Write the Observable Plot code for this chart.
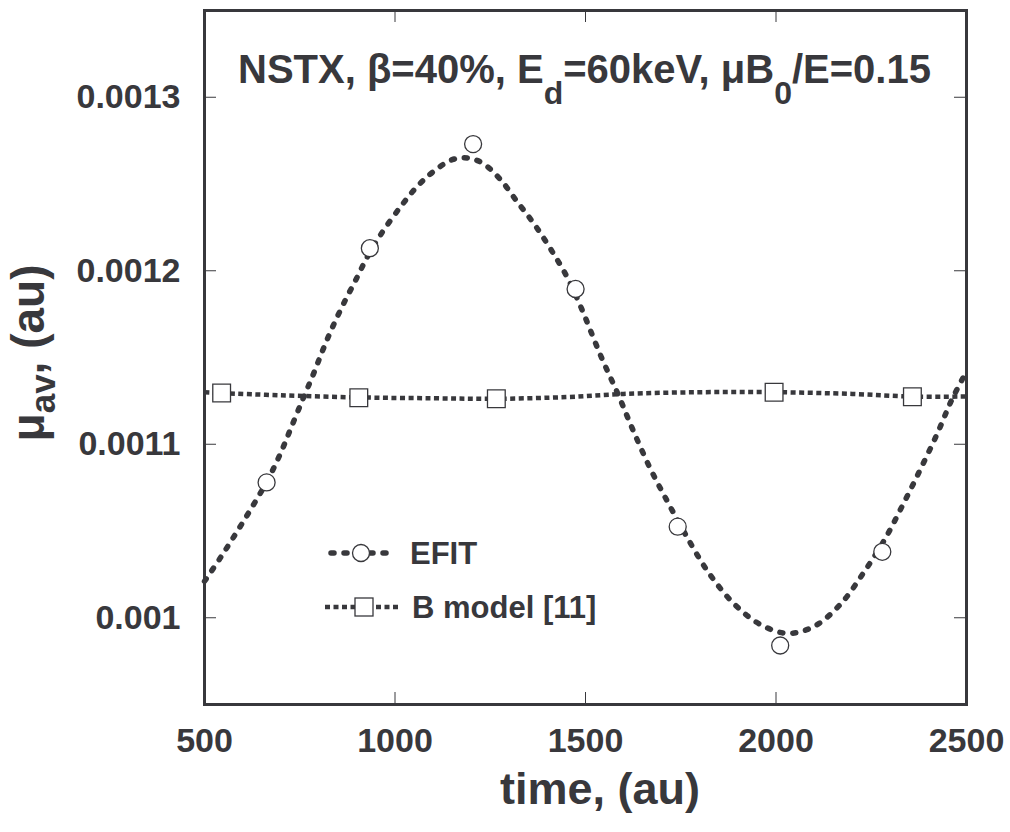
<!DOCTYPE html>
<html><head><meta charset="utf-8">
<script src="https://cdn.jsdelivr.net/npm/d3@7"></script>
<script src="https://cdn.jsdelivr.net/npm/@observablehq/plot@0.6"></script>
<style>
body{margin:0;background:#fff;}
#chart svg{display:block;}
</style>
</head><body><div id="chart"></div>
<script>
// EFIT curve (time, mu_av)
const efitTime = [500, 540, 575, 620, 665, 700, 730, 760, 785, 810, 835, 865, 900, 925, 960, 1015, 1060, 1100, 1150, 1190, 1230, 1275, 1320, 1365, 1410, 1455, 1490, 1540, 1585, 1625, 1670, 1715, 1760, 1820, 1890, 1960, 2030, 2100, 2170, 2230, 2285, 2335, 2380, 2425, 2460, 2500];
const efitMu = [0.001021, 0.001034, 0.001046, 0.001062, 0.001079, 0.001095, 0.001111, 0.001127, 0.001140, 0.001154, 0.001167, 0.001181, 0.001196, 0.001207, 0.001220, 0.001237, 0.001249, 0.001257, 0.001264, 0.001265, 0.001262, 0.001253, 0.001240, 0.001227, 0.001212, 0.001195, 0.001178, 0.001151, 0.001129, 0.001108, 0.001086, 0.001067, 0.001049, 0.001027, 0.001008, 0.000996, 0.000991, 0.000995, 0.001008, 0.001026, 0.001045, 0.001066, 0.001086, 0.001107, 0.001125, 0.001142];
const efitMarkTime = [663, 934, 1205, 1474, 1742, 2011, 2279];
const efitMarkMu = [0.001078, 0.001213, 0.001273, 0.0011895, 0.0010525, 0.000984, 0.001038];
// B model [11]
const bTime = [500, 545, 700, 905, 1100, 1266, 1450, 1600, 1800, 1995, 2200, 2358, 2500];
const bMu = [0.0011300, 0.0011295, 0.0011282, 0.0011270, 0.0011265, 0.0011262, 0.0011272, 0.0011290, 0.0011300, 0.0011300, 0.0011290, 0.0011275, 0.0011275];
const bMarkTime = [545, 905, 1266, 1995, 2358];
const bMarkMu = [0.0011295, 0.0011268, 0.0011262, 0.0011300, 0.0011274];
// axes
const xTicks = [500, 1000, 1500, 2000, 2500];
const xInnerTicks = [1000, 1500, 2000];
const yTicks = [0.001, 0.0011, 0.0012, 0.0013];
const yTickLabels = ["0.001", "0.0011", "0.0012", "0.0013"];

const efit = efitTime.map((t, i) => ({t, mu: efitMu[i]}));
const efitMarks = efitMarkTime.map((t, i) => ({t, mu: efitMarkMu[i]}));
const bmod = bTime.map((t, i) => ({t, mu: bMu[i]}));
const bMarks = bMarkTime.map((t, i) => ({t, mu: bMarkMu[i]}));

const ink = "#38383c";
const W = 1010, H = 832, mL = 204, mR = 44, mT = 10, mB = 128;
const innerW = W - mL - mR, innerH = H - mT - mB;
const font = "'Liberation Sans', Arial, Helvetica, sans-serif";
const efitDash = {stroke: ink, strokeWidth: 5.5, strokeDasharray: "3,10", strokeLinecap: "round"};
const bDash = {stroke: ink, strokeWidth: 4.5, strokeDasharray: "5,3.5", strokeLinecap: "butt"};

const plot = Plot.plot({
  width: W, height: H,
  marginLeft: mL, marginRight: mR, marginTop: mT, marginBottom: mB,
  style: {fontFamily: font, fontWeight: "bold", color: ink, background: "#fff", overflow: "visible"},
  x: {domain: [500, 2500]},
  y: {domain: [0.00095, 0.00135]},
  marks: [
    Plot.tickX(xInnerTicks, {x: d => d, insetTop: innerH - 12, stroke: ink, strokeWidth: 1}),
    Plot.tickX(xInnerTicks, {x: d => d, insetBottom: innerH - 12, stroke: ink, strokeWidth: 1}),
    Plot.tickY(yTicks, {y: d => d, insetRight: innerW - 12, stroke: ink, strokeWidth: 1}),
    Plot.tickY(yTicks, {y: d => d, insetLeft: innerW - 12, stroke: ink, strokeWidth: 1}),
    Plot.axisX(xTicks, {tickSize: 0, tickPadding: 23, fontSize: 34, fontWeight: "bold", label: null,
      tickFormat: d => String(d)}),
    Plot.axisY(yTicks, {tickSize: 0, tickPadding: 24, fontSize: 34, fontWeight: "bold", label: null,
      tickFormat: d => yTickLabels[yTicks.indexOf(d)]}),
    Plot.line(bmod, {x: "t", y: "mu", curve: "catmull-rom", ...bDash}),
    Plot.line(efit, {x: "t", y: "mu", curve: "catmull-rom", ...efitDash}),
    Plot.dot(efitMarks, {x: "t", y: "mu", r: 8.5, fill: "white", stroke: ink, strokeWidth: 1.3}),
    Plot.dot(bMarks, {x: "t", y: "mu", symbol: "square", r: 10, fill: "white", stroke: ink, strokeWidth: 1.3}),
    Plot.frame({stroke: ink, strokeWidth: 3})
  ]
});
document.getElementById("chart").appendChild(plot);

const svg = d3.select(plot);
// title inside the frame
const t = svg.append("text").attr("x", 238).attr("y", 83).attr("text-anchor", "start")
  .attr("font-size", 40).attr("font-weight", "bold").attr("fill", ink).attr("font-family", font);
t.append("tspan").text("NSTX, β=40%, E");
t.append("tspan").attr("font-size", 32).attr("dy", 21).text("d");
t.append("tspan").attr("dy", -21).text("=60keV, μB");
t.append("tspan").attr("font-size", 32).attr("dy", 21).text("0");
t.append("tspan").attr("dy", -21).text("/E=0.15");

// x axis title
svg.append("text").attr("x", 600).attr("y", 804).attr("text-anchor", "middle")
  .attr("font-size", 45).attr("font-weight", "bold").attr("fill", ink).attr("font-family", font)
  .text("time, (au)");

// y axis title
const yl = svg.append("text").attr("transform", "translate(44,353) rotate(-90)").attr("text-anchor", "middle")
  .attr("font-size", 46).attr("font-weight", "bold").attr("fill", ink).attr("font-family", font);
yl.append("tspan").text("μ");
yl.append("tspan").attr("font-size", 35).attr("dy", 11).text("av");
yl.append("tspan").attr("dy", -11).text(", (au)");

// legend
const lg = svg.append("g").attr("font-family", font).attr("font-weight", "bold").attr("fill", ink);
function legendRow(y, x0, x1, dash, width, cap, markerFn, label, tx) {
  lg.append("line").attr("x1", x0).attr("x2", x1).attr("y1", y).attr("y2", y)
    .attr("stroke", ink).attr("stroke-width", width).attr("stroke-dasharray", dash).attr("stroke-linecap", cap);
  markerFn(y);
  lg.append("text").attr("x", tx).attr("y", y).attr("dy", "0.35em").attr("text-anchor", "start")
    .attr("font-size", 31).text(label);
}
legendRow(553, 331, 395, "3,10", 5.5, "round", y => {
  lg.append("circle").attr("cx", 361).attr("cy", y).attr("r", 8.5).attr("fill", "white").attr("stroke", ink).attr("stroke-width", 1.3);
}, "EFIT", 410);
legendRow(607, 325, 398, "5,3.5", 4.5, "butt", y => {
  lg.append("rect").attr("x", 364 - 9).attr("y", y - 9).attr("width", 18).attr("height", 18).attr("fill", "white").attr("stroke", ink).attr("stroke-width", 1.3);
}, "B model [11]", 412);
</script>
</body></html>
